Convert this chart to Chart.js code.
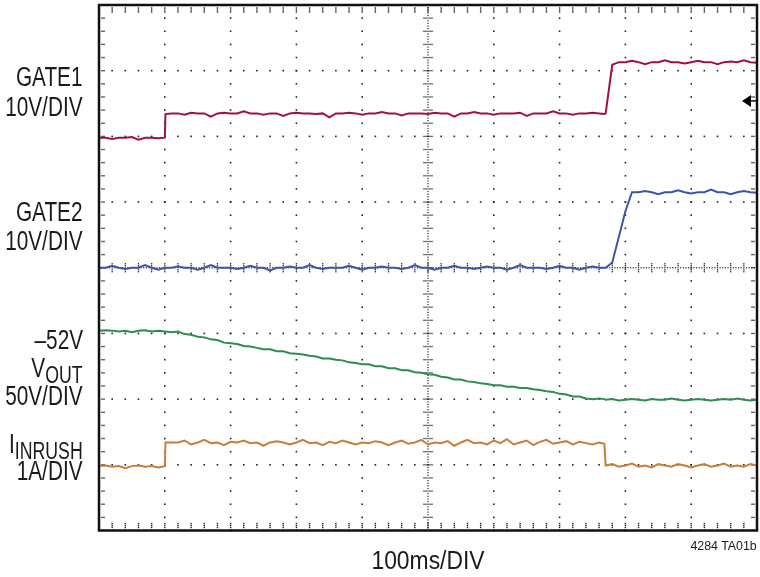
<!DOCTYPE html>
<html>
<head>
<meta charset="utf-8">
<script src="https://cdn.jsdelivr.net/npm/chart.js@4"></script>
<style>
body { margin: 0; background: #fff; }
#wrap { position: relative; width: 760px; height: 577px; }
#scope { position: absolute; left: 0; top: 0; }
.lbl { position: absolute; right: 677px; text-align: right; white-space: nowrap;
	font-family: "Liberation Sans", Arial, sans-serif;
	font-size: 27px; line-height: 27px; color: #1a1a1a;
	transform: scaleX(0.77); transform-origin: right center; }
.lbl sub { font-size: 23px; vertical-align: baseline; position: relative; top: 6px; }
#xlbl { position: absolute; left: 328px; width: 200px; top: 547px; text-align: center;
	font-family: "Liberation Sans", Arial, sans-serif; font-size: 26px; line-height: 26px; color: #1a1a1a;
	transform: scaleX(0.88); }
#code { position: absolute; right: 3px; top: 539px;
	font-family: "Liberation Sans", Arial, sans-serif; font-size: 13px; line-height: 13px; color: #1a1a1a;
	transform: scaleX(0.95); transform-origin: right center; }
</style>
</head>
<body>
<div id="wrap">
	<canvas id="scope" width="760" height="577"></canvas>
	<div class="lbl" style="top:64px">GATE1</div>
	<div class="lbl" style="top:94px">10V/DIV</div>
	<div class="lbl" style="top:199px">GATE2</div>
	<div class="lbl" style="top:228px">10V/DIV</div>
	<div class="lbl" style="top:327px">–52V</div>
	<div class="lbl" style="top:355px">V<sub>OUT</sub></div>
	<div class="lbl" style="top:383px">50V/DIV</div>
	<div class="lbl" style="top:431px">I<sub>INRUSH</sub></div>
	<div class="lbl" style="top:458px">1A/DIV</div>
	<div id="xlbl">100ms/DIV</div>
	<div id="code">4284 TA01b</div>
</div>
<script>
// 時間軸 (ms, 100ms/DIV)
var timeMs = [0,10,20,30,40,50,60,70,80,90,100,101,
	110,120,130,140,150,160,170,180,190,200,210,220,230,240,250,260,270,280,290,300,
	310,320,330,340,350,360,370,380,390,400,410,420,430,440,450,460,470,480,490,500,
	510,520,530,540,550,560,570,580,590,600,610,620,630,640,650,660,670,680,690,700,
	710,720,730,740,750,760,768,
	770,780,790,800,810,820,830,840,850,860,870,880,890,900,910,920,930,940,950,960,
	970,980,990,1000];

// 各トレースの値 (DIV, 下端から)
var gate1 = [5.98,5.98,5.96,5.98,5.98,5.99,5.95,5.98,5.98,5.97,5.98,6.34,
	6.35,6.35,6.33,6.36,6.35,6.35,6.30,6.35,6.36,6.35,
	6.35,6.38,6.35,6.35,6.33,6.35,6.35,6.31,6.35,6.36,
	6.35,6.35,6.34,6.35,6.29,6.35,6.35,6.36,6.35,6.33,
	6.35,6.35,6.37,6.35,6.35,6.32,6.35,6.35,6.35,6.34,
	6.36,6.35,6.35,6.30,6.35,6.35,6.37,6.35,6.35,6.33,
	6.35,6.35,6.35,6.36,6.31,6.35,6.35,6.35,6.38,6.35,
	6.35,6.33,6.35,6.35,6.36,6.35,6.34,
	6.35,7.09,7.13,7.13,7.15,7.13,7.10,7.13,7.13,7.16,7.13,7.13,7.11,7.13,7.15,7.13,
	7.13,7.10,7.13,7.14,7.13,7.16,7.13,7.12];

var gate2 = [4.00,4.00,4.03,4.00,3.98,4.00,4.00,4.04,4.00,3.97,4.00,4.00,
	4.00,4.02,4.00,4.00,3.97,4.00,4.04,4.00,4.00,4.00,
	3.98,4.00,4.03,4.00,4.00,3.96,4.00,4.00,4.02,4.00,
	4.00,4.04,4.00,3.98,4.00,4.00,4.00,4.03,4.00,3.97,
	4.00,4.00,4.02,4.00,4.00,3.98,4.00,4.04,4.00,4.00,
	3.97,4.00,4.00,4.03,4.00,4.00,3.98,4.00,4.02,4.00,
	4.00,3.97,4.00,4.04,4.00,4.00,4.00,3.98,4.00,4.03,
	4.00,4.00,3.97,4.00,4.02,4.00,4.00,
	4.00,4.08,4.47,4.86,5.15,5.15,5.17,5.15,5.12,5.15,5.15,5.18,5.15,5.13,5.15,5.15,
	5.19,5.15,5.15,5.12,5.15,5.17,5.15,5.14];

var vout = [3.04,3.05,3.04,3.03,3.04,3.02,3.04,3.05,3.03,3.04,3.03,3.03,
	3.02,3.03,2.99,2.98,2.95,2.94,2.91,2.90,2.86,2.85,
	2.84,2.81,2.80,2.78,2.76,2.76,2.73,2.73,2.70,2.69,
	2.68,2.66,2.65,2.62,2.62,2.60,2.59,2.56,2.55,2.53,
	2.53,2.50,2.50,2.47,2.47,2.44,2.44,2.41,2.40,2.38,
	2.37,2.34,2.33,2.30,2.30,2.27,2.26,2.24,2.23,2.21,
	2.21,2.19,2.19,2.17,2.17,2.15,2.14,2.12,2.11,2.08,
	2.07,2.04,2.04,2.01,2.00,2.01,2.00,
	1.99,2.00,1.98,1.99,2.00,1.99,1.98,2.00,1.99,1.99,2.01,1.99,1.98,1.99,2.00,1.99,
	1.98,1.99,2.00,1.99,2.01,1.99,1.98,1.99];

var inrush = [0.98,0.99,0.97,0.98,0.95,0.98,0.99,0.97,0.98,0.96,0.98,1.34,
	1.34,1.34,1.37,1.31,1.34,1.38,1.33,1.34,1.30,1.35,
	1.34,1.37,1.33,1.34,1.29,1.34,1.36,1.34,1.31,1.34,
	1.38,1.33,1.34,1.30,1.35,1.33,1.37,1.34,1.31,1.34,
	1.33,1.36,1.34,1.30,1.34,1.37,1.32,1.34,1.38,1.31,
	1.34,1.33,1.36,1.29,1.34,1.38,1.33,1.34,1.31,1.37,
	1.33,1.39,1.31,1.34,1.37,1.30,1.35,1.38,1.32,1.34,
	1.36,1.31,1.35,1.33,1.31,1.34,1.32,
	0.99,1.01,0.97,0.99,1.02,0.97,0.99,0.96,1.01,0.99,0.97,1.01,0.99,0.96,0.99,1.01,
	0.97,0.99,1.02,0.97,0.99,0.97,1.01,0.99];

var gndMark = 6.54;	//GATE1 の基準マーカー位置 (DIV)

function pts(vals) {
	return timeMs.map(function(t, i) { return { x: t, y: vals[i] }; });
}

/* 目盛り（グラティクル）の描画 */
var graticule = {
	id: 'graticule',
	beforeDatasetsDraw: function(chart) {
		var c = chart.ctx, a = chart.chartArea;
		var sx = chart.scales.x, sy = chart.scales.y;
		var X = function(v) { return sx.getPixelForValue(v); };
		var Y = function(v) { return sy.getPixelForValue(v); };
		var dot = function(x, y, s) { c.fillRect(x - s / 2, y - s / 2, s, s); };
		var i, j;
		c.save();
		c.fillStyle = '#222';
		// 縦線
		for (i = 1; i < 10; i++) {
			if (i == 5) continue;
			for (j = 0; j <= 40; j++) dot(X(i * 100), Y(j * 0.2), 1.6);
		}
		// 横線
		for (i = 1; i < 8; i++) {
			if (i == 4) continue;
			for (j = 0; j <= 50; j++) dot(X(j * 20), Y(i), 1.6);
		}
		// 中心線
		for (j = 0; j <= 200; j++) dot(X(500), Y(j * 0.04), 1.2);
		for (j = 0; j <= 250; j++) dot(X(j * 4), Y(4), 1.2);
		for (j = 0; j <= 40; j++) {
			[-4, -2, 2, 4].forEach(function(d) { dot(X(500) + d, Y(j * 0.2), 1.3); });
		}
		for (j = 0; j <= 50; j++) {
			[-4, -2, 2, 4].forEach(function(d) { dot(X(j * 20), Y(4) + d, 1.3); });
		}
		// 枠の小目盛り
		for (j = 1; j < 40; j++) {
			[3, 5].forEach(function(d) {
				dot(a.left + d, Y(j * 0.2), 1.4);
				dot(a.right - d, Y(j * 0.2), 1.4);
			});
		}
		for (j = 1; j < 50; j++) {
			[3, 5, 7].forEach(function(d) {
				dot(X(j * 20), a.top + d, 1.4);
				dot(X(j * 20), a.bottom - d, 1.4);
			});
		}
		c.restore();
	},
	afterDraw: function(chart) {
		var c = chart.ctx, a = chart.chartArea;
		var y = chart.scales.y.getPixelForValue(gndMark);
		c.save();
		c.strokeStyle = '#111';
		c.lineWidth = 2.5;
		c.strokeRect(a.left, a.top, a.right - a.left, a.bottom - a.top);
		// 基準マーカー
		c.fillStyle = '#000';
		c.lineWidth = 1.5;
		c.beginPath();
		c.moveTo(a.right, y);
		c.lineTo(a.right - 9, y);
		c.stroke();
		c.beginPath();
		c.moveTo(a.right - 15, y);
		c.lineTo(a.right - 6, y - 6);
		c.lineTo(a.right - 6, y + 6);
		c.closePath();
		c.fill();
		c.restore();
	}
};

var ctx = document.getElementById('scope').getContext('2d');
var myChart = new Chart(ctx, {
	type: 'line',
	data: {
		datasets: [
			{ label: 'GATE1', data: pts(gate1), borderColor: '#A3123E' },
			{ label: 'GATE2', data: pts(gate2), borderColor: '#3B56A8' },
			{ label: 'VOUT', data: pts(vout), borderColor: '#2F8B4F' },
			{ label: 'IINRUSH', data: pts(inrush), borderColor: '#C57F3A' }
		]
	},
	options: {
		responsive: false,
		animation: false,
		layout: { padding: { left: 99, right: 3, top: 5, bottom: 46.5 } },
		elements: {
			line: { borderWidth: 2, tension: 0, fill: false },
			point: { radius: 0 }
		},
		plugins: { legend: { display: false }, tooltip: { enabled: false } },
		scales: {
			x: { type: 'linear', min: 0, max: 1000, display: false },
			y: { type: 'linear', min: 0, max: 8, display: false }
		}
	},
	plugins: [graticule]
});
</script>
</body>
</html>
